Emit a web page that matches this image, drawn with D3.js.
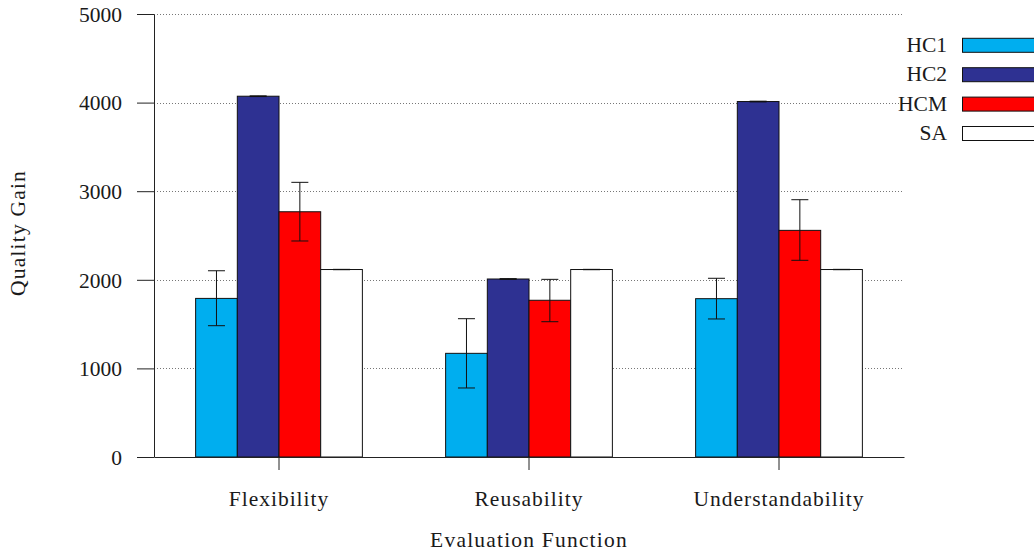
<!DOCTYPE html>
<html>
<head>
<meta charset="utf-8">
<script src="https://cdn.jsdelivr.net/npm/d3@7"></script>
<style>
  html, body { margin: 0; padding: 0; background: #fff; }
  svg { display: block; }
  svg text { font-family: "Times New Roman", Times, "Liberation Serif", serif; fill: #1a1a1a; }
</style>
</head>
<body>
<svg id="chart" width="1034" height="556"></svg>
<script>
// Evaluation functions on the x axis
const categories = ["Flexibility", "Reusability", "Understandability"];
// Search algorithms compared in each group
const seriesNames = ["HC1", "HC2", "HCM", "SA"];
const seriesColors = ["#00AEEF", "#2E3192", "#FF0000", "#FFFFFF"];
// Mean quality gain per series, one value per category
const hc1Values = [1790, 1170, 1787];
const hc2Values = [4072, 2009, 4012];
const hcmValues = [2768, 1769, 2558];
const saValues  = [2116, 2116, 2116];
// Error bar extents (low, high) per series and category
const hc1Err = [[1482, 2102], [779, 1561], [1558, 2017]];
const hc2Err = [[4068, 4076], [2005, 2013], [4008, 4016]];
const hcmErr = [[2438, 3100], [1527, 2005], [2220, 2904]];
const saErr  = [[2114, 2118], [2114, 2118], [2114, 2118]];
const yTicks = [0, 1000, 2000, 3000, 4000, 5000];

const seriesValues = [hc1Values, hc2Values, hcmValues, saValues];
const seriesErrors = [hc1Err, hc2Err, hcmErr, saErr];

const FONT = 21.5;
const WORD_SPACING = 1.0;

const svg = d3.select("#chart");
const plotLeft = 154, plotRight = 904, plotTop = 14, plotBottom = 457;

const x = d3.scaleBand().domain(categories).range([plotLeft, plotRight]).paddingInner(0).paddingOuter(0);
const inner = d3.scaleBand().domain(seriesNames).range([0, x.bandwidth() * 0.667])
  .paddingInner(0).paddingOuter(0);
const groupOffset = (x.bandwidth() - inner.range()[1]) / 2;
const y = d3.scaleLinear().domain([0, 5000]).range([plotBottom, plotTop]);

// dotted grid lines
svg.append("g")
  .selectAll("line")
  .data(yTicks.filter(t => t > 0))
  .join("line")
  .attr("x1", plotLeft).attr("x2", plotRight - 1)
  .attr("y1", d => Math.round(y(d)) + 0.5).attr("y2", d => Math.round(y(d)) + 0.5)
  .attr("stroke", "#777").attr("stroke-width", 1)
  .attr("stroke-dasharray", "1,2");

// bars
const rows = [];
categories.forEach((c, ci) => {
  seriesNames.forEach((s, si) => {
    rows.push({ cat: c, series: s, si, value: seriesValues[si][ci], err: seriesErrors[si][ci] });
  });
});

svg.append("g")
  .selectAll("rect")
  .data(rows)
  .join("rect")
  .attr("x", d => x(d.cat) + groupOffset + inner(d.series))
  .attr("width", inner.bandwidth())
  .attr("y", d => y(d.value))
  .attr("height", d => y(0) - y(d.value))
  .attr("fill", d => seriesColors[d.si])
  .attr("stroke", "#111").attr("stroke-width", 1);

// error bars
const cap = 8.5;
const gErr = svg.append("g").attr("stroke", "#111").attr("stroke-width", 1);
rows.forEach(d => {
  const cx = x(d.cat) + groupOffset + inner(d.series) + inner.bandwidth() / 2;
  gErr.append("line").attr("x1", cx).attr("x2", cx).attr("y1", y(d.err[0])).attr("y2", y(d.err[1]));
  gErr.append("line").attr("x1", cx - cap).attr("x2", cx + cap).attr("y1", y(d.err[0])).attr("y2", y(d.err[0]));
  gErr.append("line").attr("x1", cx - cap).attr("x2", cx + cap).attr("y1", y(d.err[1])).attr("y2", y(d.err[1]));
});

// y axis
const yAxis = svg.append("g").attr("transform", `translate(${plotLeft},0)`)
  .call(d3.axisLeft(y).tickValues(yTicks).tickFormat(d3.format("d"))
    .tickSize(17).tickPadding(15).tickSizeOuter(0));
yAxis.attr("font-family", null);
yAxis.select(".domain").attr("stroke", "#222");
yAxis.selectAll(".tick line").attr("stroke", "#222");
yAxis.selectAll(".tick text")
  .attr("font-size", FONT).attr("fill", "#1a1a1a")
  .attr("dy", "0.34em");

// x axis
const xAxis = svg.append("g").attr("transform", `translate(0,${plotBottom})`)
  .call(d3.axisBottom(x).tickSize(13).tickSizeOuter(0));
xAxis.attr("font-family", null);
xAxis.select(".domain").attr("stroke", "#222");
xAxis.selectAll(".tick line").attr("stroke", "#222");
xAxis.selectAll(".tick text")
  .attr("font-size", FONT).attr("fill", "#1a1a1a")
  .attr("letter-spacing", WORD_SPACING)
  .attr("y", 49).attr("dy", 0);

// axis titles
svg.append("text")
  .attr("x", 529).attr("y", 547)
  .attr("text-anchor", "middle").attr("font-size", FONT)
  .attr("letter-spacing", 1.2)
  .text("Evaluation Function");
svg.append("text")
  .attr("transform", "translate(25,233) rotate(-90)")
  .attr("text-anchor", "middle").attr("font-size", FONT)
  .attr("letter-spacing", 1.2)
  .text("Quality Gain");

// legend
const legend = svg.append("g");
seriesNames.forEach((s, i) => {
  const cy = 45.3 + i * 29.4;
  legend.append("text")
    .attr("x", 947).attr("y", cy + 6.5)
    .attr("text-anchor", "end").attr("font-size", FONT)
    .text(s);
  legend.append("rect")
    .attr("x", 962.5).attr("y", cy - 7)
    .attr("width", 80).attr("height", 14)
    .attr("fill", seriesColors[i]).attr("stroke", "#111").attr("stroke-width", 1);
});
</script>
</body>
</html>
